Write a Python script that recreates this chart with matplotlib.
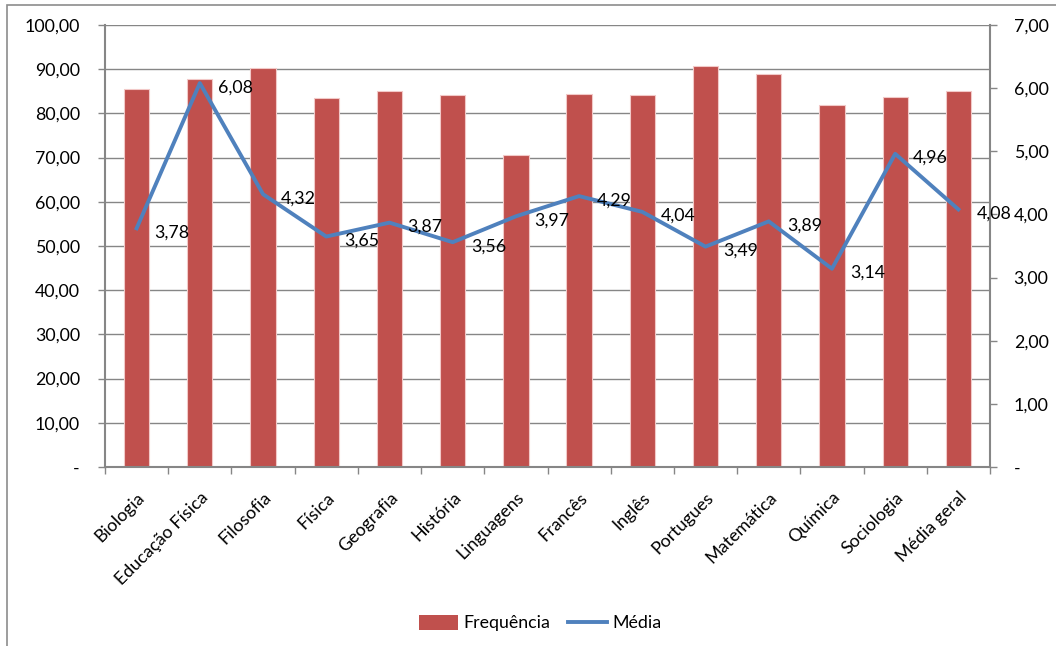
import matplotlib.pyplot as plt
from matplotlib.patches import Rectangle
from matplotlib.ticker import FuncFormatter
from matplotlib.lines import Line2D
import numpy as np

disciplinas = ["Biologia", "Educação Física", "Filosofia", "Física", "Geografia",
               "História", "Linguagens", "Francês", "Inglês", "Portugues",
               "Matemática", "Química", "Sociologia", "Média geral"]
frequencia = [85.5, 87.7, 90.2, 83.5, 85.1, 84.2, 70.6, 84.5, 84.2, 90.8,
              88.9, 81.9, 83.8, 85.1]
media = [3.78, 6.08, 4.32, 3.65, 3.87, 3.56, 3.97, 4.29, 4.04, 3.49,
         3.89, 3.14, 4.96, 4.08]

plt.rcParams['font.family'] = ['Lato', 'DejaVu Sans']
plt.rcParams['xtick.direction'] = 'out'
plt.rcParams['ytick.direction'] = 'out'

bar_color = "#C0504D"
line_color = "#4F81BD"
axis_gray = "#868686"
fs = 12.8


def virgula(v, pos):
    if abs(v) < 1e-9:
        return "-"
    return f"{v:.2f}".replace(".", ",")


fig = plt.figure(figsize=(10.56, 6.46), dpi=100)
fig.patches.append(Rectangle((7 / 1056, -0.1), 1.1, 1.1 - 5 / 646,
                             transform=fig.transFigure, fill=False,
                             edgecolor="#8c8c8c", linewidth=1.2))

ax = fig.add_axes([105 / 1056, 1 - 467 / 646, 885 / 1056, 442 / 646])
x = np.arange(len(disciplinas))
ax.bar(x, frequencia, width=0.4, color=bar_color, edgecolor="#f2c9c8",
       linewidth=0.8, zorder=2)
ax.set_xlim(-0.5, len(disciplinas) - 0.5)
ax.set_ylim(0, 100)
ax.set_yticks(np.arange(0, 101, 10))
ax.yaxis.set_major_formatter(FuncFormatter(virgula))
ax.grid(axis="y", color=axis_gray, linewidth=1, zorder=0)
ax.set_axisbelow(True)

ax.set_xticks(x)
ax.set_xticklabels(disciplinas, rotation=45, ha="right", rotation_mode="anchor",
                   fontsize=fs)
ax.set_xticks(np.arange(-0.5, len(disciplinas)), minor=True)
ax.tick_params(axis="x", which="major", length=0, pad=16)
ax.tick_params(axis="x", which="minor", length=5, color=axis_gray, width=1)
ax.tick_params(axis="y", length=5, color=axis_gray, width=1, labelsize=fs, pad=13)

for side in ["left", "bottom"]:
    ax.spines[side].set_color(axis_gray)
    ax.spines[side].set_linewidth(1.5)
ax.spines["top"].set_visible(False)
ax.spines["right"].set_visible(False)

ax2 = ax.twinx()
ax2.plot(x, media, color=line_color, linewidth=2.8, zorder=3)
ax2.set_ylim(0, 7)
ax2.set_yticks(np.arange(0, 8, 1))
ax2.yaxis.set_major_formatter(FuncFormatter(virgula))
ax2.tick_params(axis="y", length=5, color=axis_gray, width=1, labelsize=fs, pad=12)
ax2.spines["right"].set_color(axis_gray)
ax2.spines["right"].set_linewidth(1.5)
for side in ["left", "top", "bottom"]:
    ax2.spines[side].set_visible(False)

for xi, v in zip(x, media):
    ax2.annotate(virgula(v, None), (xi, v), xytext=(13, -3), textcoords="offset points",
                 ha="left", va="center", fontsize=fs, zorder=4)

handles = [Rectangle((0, 0), 1, 1, facecolor=bar_color, edgecolor="none"),
           Line2D([0], [0], color=line_color, linewidth=2.8)]
fig.legend(handles, ["Frequência", "Média"], loc="center",
           bbox_to_anchor=(540 / 1056, 1 - 623 / 646), ncol=2, frameon=False,
           fontsize=fs, handlelength=2.2, handleheight=0.9, columnspacing=1.0,
           handletextpad=0.3)

fig.savefig("out.png", dpi=100)
